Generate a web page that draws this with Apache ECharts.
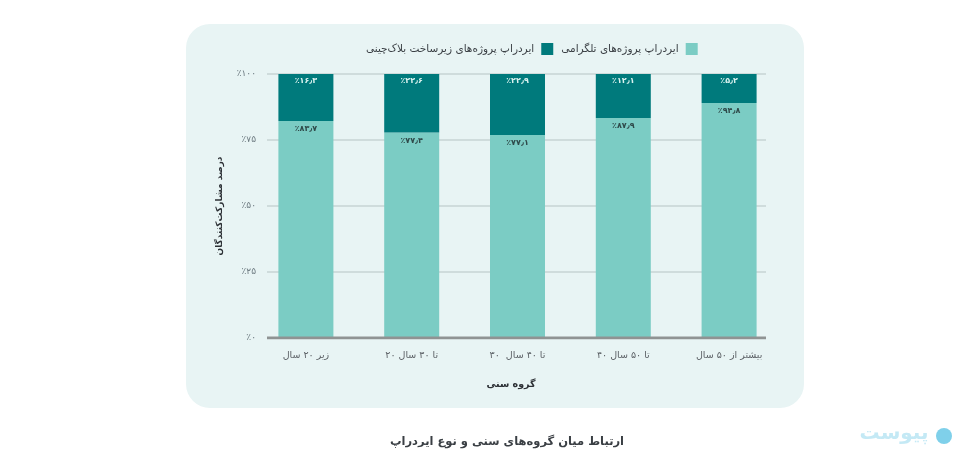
<!DOCTYPE html>
<html lang="fa">
<head>
<meta charset="utf-8" />
<title>ارتباط میان گروه‌های سنی و نوع ایردراپ</title>
<style>
  html, body { margin: 0; padding: 0; background: #fff; }
  #chart { width: 973px; height: 464px; }
</style>
</head>
<body>
<div id="chart"></div>
<script src="https://cdn.jsdelivr.net/npm/echarts@6/dist/echarts.min.js"></script>
<script>
const fontName = "DejaVu Sans";

const categories = ["زیر ۲۰ سال", "۲۰ تا ۳۰ سال", "۳۰  تا ۴۰ سال", "۴۰ تا ۵۰ سال", "بیشتر از ۵۰ سال"];
const yTicks = ["٪۰", "٪۲۵", "٪۵۰", "٪۷۵", "٪۱۰۰"];
const seriesNames = ["ایردراپ پروژه‌های تلگرامی", "ایردراپ پروژه‌های زیرساخت بلاک‌چینی"];

// bar heights as drawn in the picture, they differ a bit from the printed labels
const telegramValues = [82.2, 77.8, 76.9, 83.3, 89.0];
const infraValues = [17.8, 22.2, 23.1, 16.7, 11.0];
const telegramLabels = ["٪۸۳٫۷", "٪۷۷٫۴", "٪۷۷٫۱", "٪۸۷٫۹", "٪۹۴٫۸"];
const infraLabels = ["٪۱۶٫۳", "٪۲۲٫۶", "٪۲۲٫۹", "٪۱۲٫۱", "٪۵٫۲"];

const chart = echarts.init(document.getElementById("chart"), null, { renderer: "canvas" });

const options = {
  animation: false,
  textStyle: { fontFamily: fontName },
  // panel, caption and logo
  graphic: [
    {
      type: "rect",
      z: -10,
      shape: { x: 186, y: 24, width: 618, height: 384, r: 24 },
      style: { fill: "#e8f4f4" },
    },
    {
      type: "text",
      x: 507,
      y: 442,
      style: {
        text: "ارتباط میان گروه‌های سنی و نوع ایردراپ",
        font: "bold 11.5px " + fontName,
        fill: "#3a3f44",
        textAlign: "center",
        textVerticalAlign: "middle",
      },
    },
    {
      type: "text",
      x: 894,
      y: 434,
      style: {
        text: "پیوست",
        font: "bold 20px " + fontName,
        fill: "#c4e9f5",
        textAlign: "center",
        textVerticalAlign: "middle",
      },
    },
    {
      type: "circle",
      shape: { cx: 944, cy: 436, r: 8 },
      style: { fill: "#7fd0ea" },
    },
  ],
  legend: {
    top: 38,
    left: 361,
    align: "right",
    itemWidth: 12,
    itemHeight: 12,
    itemGap: 8,
    icon: "rect",
    selectedMode: false,
    data: [seriesNames[1], seriesNames[0]],
    textStyle: { fontFamily: fontName, fontSize: 10.5, color: "#3a3f44", padding: [0, 2, 0, 0] },
  },
  // grid 0 holds the bars, grid 1 the shorter gridlines and the y labels
  grid: [
    { left: 253, width: 529, top: 74, height: 264 },
    { left: 267, width: 499, top: 74, height: 264 },
  ],
  xAxis: [
    {
      type: "category",
      gridIndex: 0,
      data: categories,
      axisLine: { show: false },
      axisTick: { show: false },
      axisLabel: { margin: 13, fontSize: 9.5, color: "#5c6166" },
      name: "گروه سنی",
      nameLocation: "middle",
      nameGap: 42,
      nameTextStyle: { fontSize: 9.5, fontWeight: "bold", color: "#2c3035", padding: [0, 13, 0, 0] },
    },
    {
      type: "value",
      gridIndex: 1,
      min: 0,
      max: 1,
      show: false,
    },
  ],
  yAxis: [
    {
      type: "value",
      gridIndex: 0,
      min: 0,
      max: 100,
      interval: 25,
      axisLine: { show: false },
      axisTick: { show: false },
      axisLabel: { show: false },
      splitLine: { show: false },
    },
    {
      type: "value",
      gridIndex: 1,
      min: 0,
      max: 100,
      interval: 25,
      axisLine: { show: false },
      axisTick: { show: false },
      axisLabel: {
        margin: 11,
        fontSize: 9,
        color: "#6d7a80",
        formatter: (value) => yTicks[value / 25],
      },
      splitLine: { lineStyle: { color: "#cfdcdc", width: 2 } },
      name: "درصد مشارکت‌کنندگان",
      nameLocation: "middle",
      nameGap: 43,
      nameRotate: 90,
      nameTextStyle: { fontSize: 9, fontWeight: "bold", color: "#2c3035" },
    },
  ],
  series: [
    {
      name: seriesNames[0],
      type: "bar",
      stack: "total",
      barWidth: 55,
      xAxisIndex: 0,
      yAxisIndex: 0,
      data: telegramValues,
      itemStyle: { color: "#7bccc4" },
      label: {
        show: true,
        position: "insideTop",
        distance: 4,
        fontSize: 8,
        fontWeight: "bold",
        color: "#2f4a4a",
        formatter: (params) => telegramLabels[params.dataIndex],
      },
    },
    {
      name: seriesNames[1],
      type: "bar",
      stack: "total",
      barWidth: 55,
      xAxisIndex: 0,
      yAxisIndex: 0,
      data: infraValues,
      itemStyle: { color: "#007a7c" },
      label: {
        show: true,
        position: "insideTop",
        distance: 3,
        fontSize: 8,
        fontWeight: "bold",
        color: "#d9f2ef",
        formatter: (params) => infraLabels[params.dataIndex],
      },
    },
    {
      // baseline sits on the value axis of the short grid
      type: "line",
      xAxisIndex: 1,
      yAxisIndex: 1,
      data: [[0, 0], [1, 0]],
      symbol: "none",
      z: 5,
      lineStyle: { color: "#8f9393", width: 3 },
    },
  ],
};
chart.setOption(options);
</script>
</body>
</html>
